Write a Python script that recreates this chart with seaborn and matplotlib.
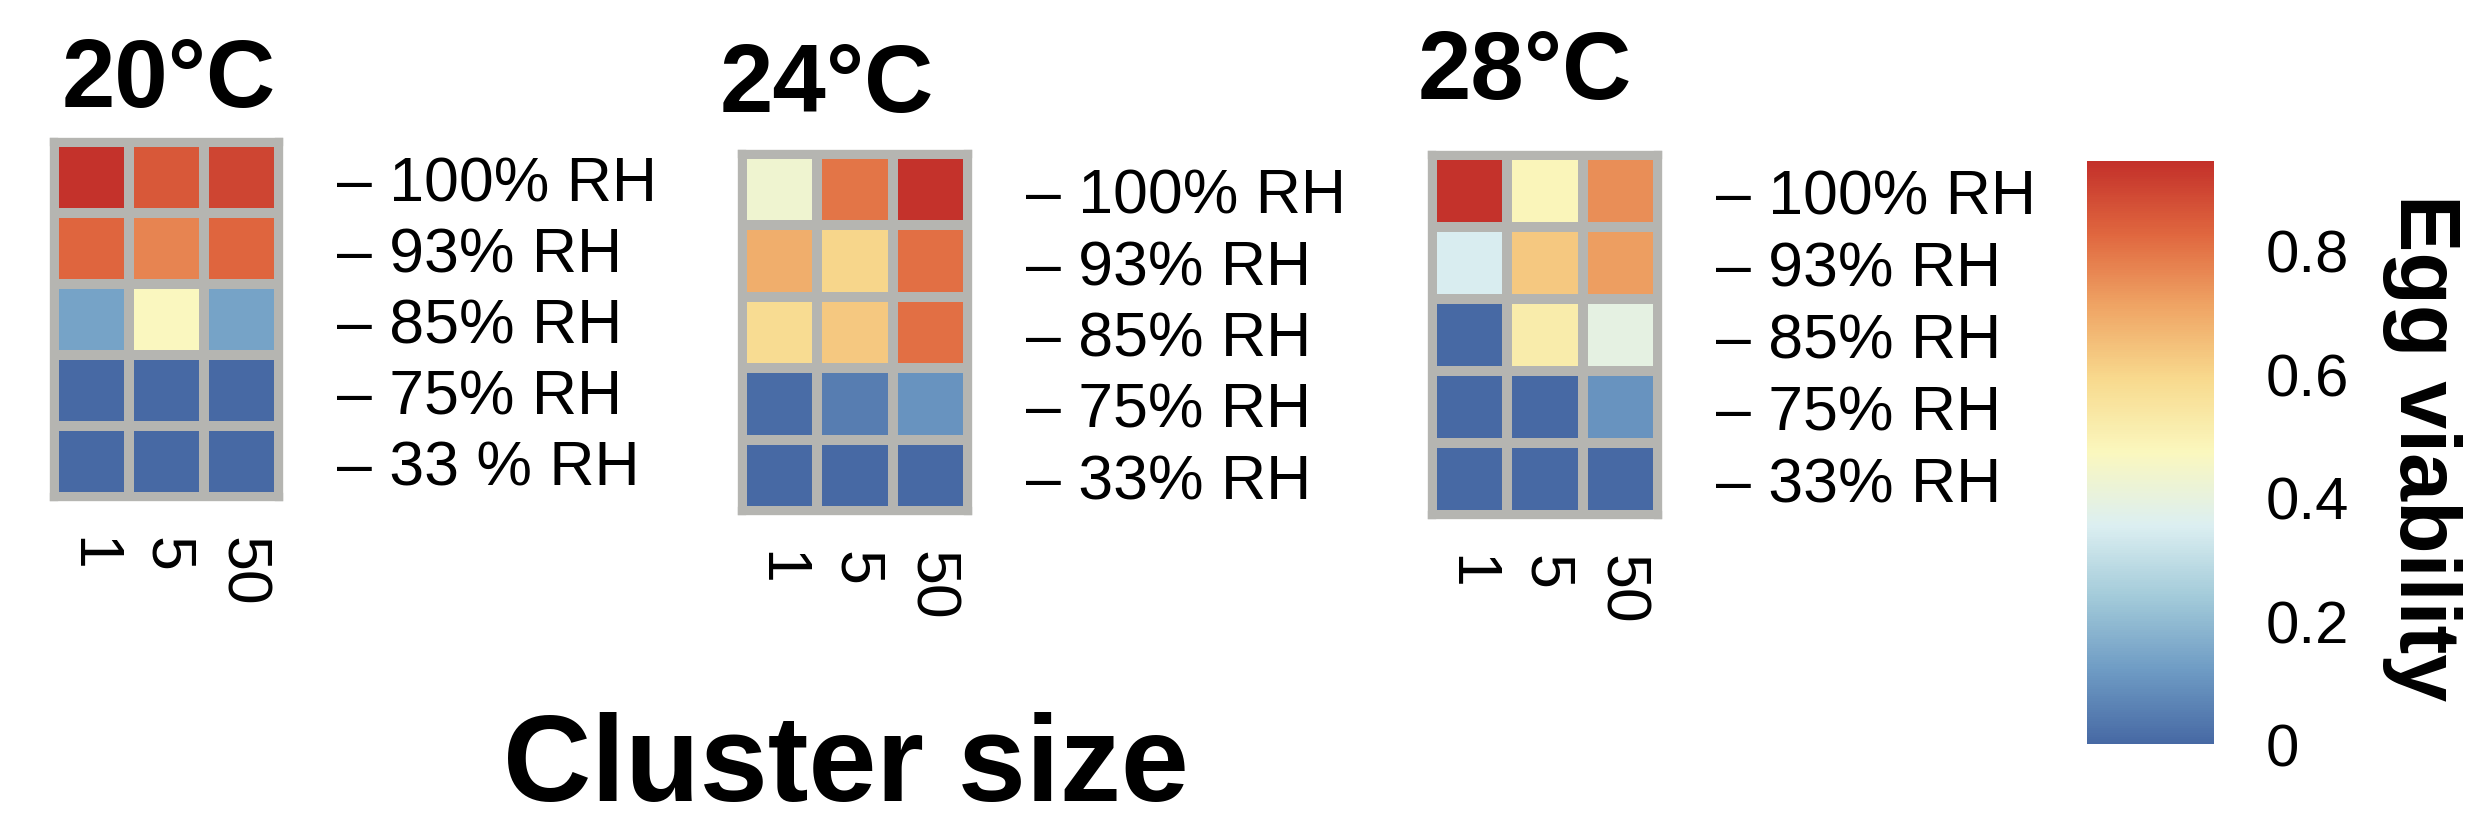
import numpy as np
import pandas as pd
import matplotlib
matplotlib.use("Agg")
import matplotlib.pyplot as plt
import seaborn as sns
from matplotlib.colors import LinearSegmentedColormap

# ---------------- data ----------------
cluster_sizes = ["1", "5", "50"]
rh_labels_20 = ["– 100% RH", "– 93% RH", "– 85% RH", "– 75% RH", "– 33 % RH"]
rh_labels = ["– 100% RH", "– 93% RH", "– 85% RH", "– 75% RH", "– 33% RH"]
temperatures = ["20°C", "24°C", "28°C"]

viability_20 = [
    [0.94, 0.86, 0.90],
    [0.83, 0.77, 0.83],
    [0.14, 0.47, 0.14],
    [0.00, 0.00, 0.00],
    [0.00, 0.00, 0.00],
]
viability_24 = [
    [0.43, 0.80, 0.94],
    [0.69, 0.60, 0.81],
    [0.58, 0.63, 0.81],
    [0.01, 0.05, 0.10],
    [0.00, 0.00, 0.00],
]
viability_28 = [
    [0.94, 0.48, 0.75],
    [0.35, 0.63, 0.72],
    [0.00, 0.52, 0.39],
    [0.00, 0.00, 0.10],
    [0.00, 0.00, 0.00],
]
cbar_ticks = [0, 0.2, 0.4, 0.6, 0.8]
cbar_ticklabels = ["0", "0.2", "0.4", "0.6", "0.8"]
VMIN, VMAX = 0.0, 0.945

# ---------------- style ----------------
sns.set_style("white")
plt.rcParams["font.family"] = ["Liberation Sans", "DejaVu Sans"]
plt.rcParams["text.color"] = "black"
plt.rcParams["xtick.color"] = "black"
plt.rcParams["ytick.color"] = "black"
plt.rcParams["axes.labelcolor"] = "black"

cmap = LinearSegmentedColormap.from_list(
    "egg",
    ["#4769A4", "#6E9BC4", "#A2CAD9", "#DCEFF1", "#FAF7BE",
     "#F8DA8E", "#EFA565", "#E0673F", "#C3302A"],
)
GRID = "#b5b5b1"
LW = 6

W, H = 2468, 828
fig = plt.figure(figsize=(W / 100, H / 100), dpi=100)


def fx(px):
    return px / W


def fy(py):
    return 1 - py / H


# axes boxes in pixel coordinates (left, top, right, bottom)
boxes = [(54, 143, 279, 498), (742, 155, 968, 512), (1432, 156, 1658, 516)]
title_pos = [(62, 107), (720, 112), (1418, 99)]
cbar_box = (2087, 162, 2214, 745)

cax = fig.add_axes([fx(cbar_box[0]), fy(cbar_box[3]),
                    fx(cbar_box[2] - cbar_box[0]), (cbar_box[3] - cbar_box[1]) / H])

datasets = [viability_20, viability_24, viability_28]
ylabel_sets = [rh_labels_20, rh_labels, rh_labels]

for i, (vals, ylabs, (l, t, r, b)) in enumerate(zip(datasets, ylabel_sets, boxes)):
    ax = fig.add_axes([fx(l), fy(b), fx(r - l), (b - t) / H])
    df = pd.DataFrame(vals, index=ylabs, columns=cluster_sizes)
    sns.heatmap(df, ax=ax, cmap=cmap, vmin=VMIN, vmax=VMAX,
                linewidths=LW, linecolor=GRID,
                cbar=(i == 2), cbar_ax=cax if i == 2 else None)
    ax.set_xlabel("")
    ax.set_ylabel("")
    ax.yaxis.tick_right()
    ax.set_yticklabels(ylabs, rotation=0, fontsize=45, color="black")
    ax.set_xticklabels(cluster_sizes, rotation=270, fontsize=45, color="black")
    ax.tick_params(axis="y", length=0, pad=42, right=True, left=False)
    ax.tick_params(axis="x", length=0, pad=28)
    for s in ax.spines.values():
        s.set_visible(True)
        s.set_color(GRID)
        s.set_linewidth(LW)
    tx, ty = title_pos[i]
    fig.text(fx(tx), fy(ty), temperatures[i], fontsize=69, fontweight="bold",
             ha="left", va="baseline", color="black")

cbar = fig.axes[-1].collections[0].colorbar
cbar.set_ticks(cbar_ticks)
cbar.set_ticklabels(cbar_ticklabels)
cbar.ax.tick_params(length=0, labelsize=43, pad=37, labelcolor="black")
cbar.outline.set_visible(False)

fig.text(fx(2422), fy(448), "Egg viability", rotation=270, fontsize=62,
         fontweight="bold", ha="center", va="center", color="black")
fig.text(fx(846), fy(826), "Cluster size", fontsize=88, fontweight="bold",
         ha="center", va="bottom", color="black")

fig.savefig("out.png", dpi=100, facecolor="white")
